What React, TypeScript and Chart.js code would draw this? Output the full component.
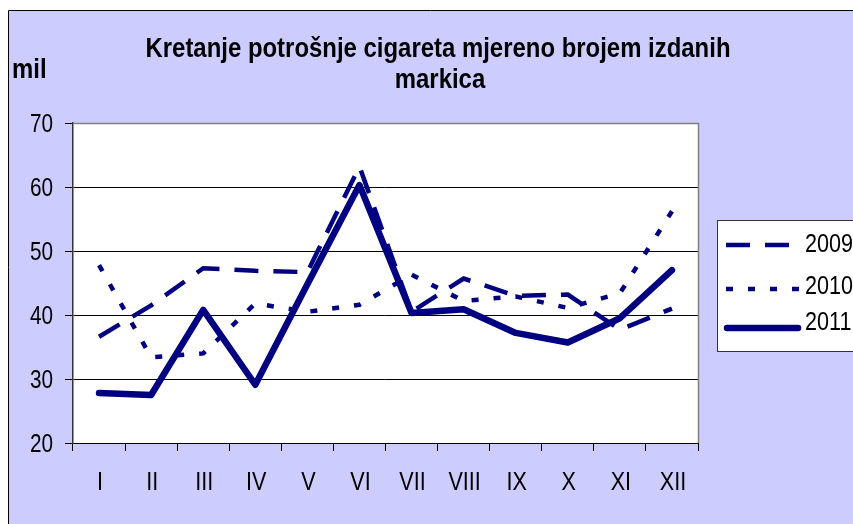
import { useEffect, useRef } from "react";
import { Chart, registerables } from "chart.js";

Chart.register(...registerables);

// ---- data ----
const categories = ["I", "II", "III", "IV", "V", "VI", "VII", "VIII", "IX", "X", "XI", "XII"];
const seriesNames = ["2009", "2010", "2011"];
const values2009 = [36.6, 41.5, 47.3, 46.9, 46.7, 63.2, 40.5, 45.7, 43.0, 43.2, 37.7, 41.0];
const values2010 = [47.8, 33.4, 34.0, 41.8, 40.5, 41.6, 46.3, 42.2, 42.9, 41.1, 43.4, 56.2];
const values2011 = [27.8, 27.5, 40.8, 29.1, 44.8, 60.3, 40.3, 40.9, 37.2, 35.7, 39.5, 47.0];
const yMin = 20;
const yMax = 70;
const yStep = 10;
const titleLines = ["Kretanje potrošnje cigareta mjereno brojem izdanih", "markica"];
const unitLabel = "mil";

// ---- styles ----
const NAVY = "#000080";
const LAVENDER = "#CCCCFF";
const FAMILY = '"Liberation Sans", Arial, sans-serif';
const dashes = [[24, 15], [7, 15], []];
const widths = [4.5, 4.5, 6.5];
const NARROW = 0.83;

function drawScaledText(
  ctx: CanvasRenderingContext2D,
  text: string,
  x: number,
  y: number,
  font: string,
  sx: number,
  align: "left" | "center" | "right"
) {
  ctx.save();
  ctx.font = font;
  ctx.textBaseline = "alphabetic";
  ctx.textAlign = "left";
  const w = ctx.measureText(text).width * sx;
  const left = align === "center" ? x - w / 2 : align === "right" ? x - w : x;
  ctx.translate(left, y);
  ctx.scale(sx, 1);
  ctx.fillStyle = "#000";
  ctx.fillText(text, 0, 0);
  ctx.restore();
}

const decorPlugin = {
  id: "decor",
  beforeDraw(chart: any) {
    const { ctx, width, height, chartArea } = chart;
    ctx.save();
    ctx.fillStyle = "#ffffff";
    ctx.fillRect(0, 0, width, height);
    ctx.fillStyle = LAVENDER;
    ctx.fillRect(9, 11, width - 9, height - 11);
    ctx.strokeStyle = "#000";
    ctx.lineWidth = 1;
    ctx.beginPath();
    ctx.moveTo(8.5, height);
    ctx.lineTo(8.5, 10.5);
    ctx.lineTo(width, 10.5);
    ctx.stroke();
    ctx.fillStyle = "#ffffff";
    ctx.fillRect(chartArea.left, chartArea.top, chartArea.right - chartArea.left, chartArea.bottom - chartArea.top);
    ctx.restore();
  },
  afterDraw(chart: any) {
    const { ctx, chartArea, width } = chart;
    ctx.save();
    // plot border top/right
    ctx.strokeStyle = "#808080";
    ctx.lineWidth = 1.5;
    ctx.beginPath();
    ctx.moveTo(chartArea.left, chartArea.top + 0.5);
    ctx.lineTo(chartArea.right + 0.5, chartArea.top + 0.5);
    ctx.lineTo(chartArea.right + 0.5, chartArea.bottom);
    ctx.stroke();
    ctx.restore();

    // tick labels (narrowed text, positioned by the library's scales)
    const xs = chart.scales.x;
    const ys = chart.scales.y;
    ys.ticks.forEach((t: any) => {
      const py = ys.getPixelForValue(t.value);
      drawScaledText(ctx, String(t.value), 53, py + 8.8, `25px ${FAMILY}`, NARROW, "right");
    });
    categories.forEach((c, i) => {
      const px = xs.getPixelForValue(i);
      drawScaledText(ctx, c, px + 1, 490, `26px ${FAMILY}`, NARROW, "center");
    });

    // title
    const titleFont = `bold 27px ${FAMILY}`;
    ctx.save();
    ctx.font = titleFont;
    const natural = ctx.measureText(titleLines[0]).width;
    ctx.restore();
    const sx = 585 / natural;
    drawScaledText(ctx, titleLines[0], 438, 57, titleFont, sx, "center");
    drawScaledText(ctx, titleLines[1], 440, 88, titleFont, sx, "center");
    drawScaledText(ctx, unitLabel, 12, 78, titleFont, sx, "left");

    // legend
    const lx = 717.5;
    const ly = 220.5;
    ctx.save();
    ctx.fillStyle = "#ffffff";
    ctx.fillRect(lx, ly, width - lx + 5, 131);
    ctx.strokeStyle = "#333";
    ctx.lineWidth = 1;
    ctx.strokeRect(lx, ly, width - lx + 5, 131);
    const lineYs = [245, 289, 328];
    const textYs = [252, 294, 330];
    seriesNames.forEach((name, i) => {
      ctx.save();
      ctx.strokeStyle = NAVY;
      ctx.lineWidth = widths[i];
      ctx.setLineDash(dashes[i]);
      ctx.lineCap = i === 2 ? "round" : "butt";
      ctx.beginPath();
      ctx.moveTo(i === 2 ? 727 : 726, lineYs[i]);
      ctx.lineTo(i === 2 ? 798 : 800, lineYs[i]);
      ctx.stroke();
      ctx.restore();
      drawScaledText(ctx, name, 805, textYs[i], `26px ${FAMILY}`, NARROW, "left");
    });
    ctx.restore();
  },
};

export default function App() {
  const canvasRef = useRef<HTMLCanvasElement | null>(null);

  useEffect(() => {
    const canvas = canvasRef.current;
    if (!canvas) return;
    const allValues = [values2009, values2010, values2011];
    const chart = new Chart(canvas, {
      type: "line",
      data: {
        labels: categories,
        datasets: seriesNames.map((name, i) => ({
          label: name,
          data: allValues[i],
          borderColor: NAVY,
          backgroundColor: NAVY,
          borderWidth: widths[i],
          borderDash: dashes[i],
          borderCapStyle: i === 2 ? "round" : "butt",
          borderJoinStyle: i === 2 ? "round" : "miter",
          pointRadius: 0,
          pointHoverRadius: 0,
          tension: 0,
          fill: false,
        })),
      },
      options: {
        animation: false,
        responsive: false,
        maintainAspectRatio: false,
        events: [],
        layout: { padding: { top: 123, right: 155, left: 0, bottom: 0 } },
        plugins: {
          legend: { display: false },
          title: { display: false },
          tooltip: { enabled: false },
        },
        scales: {
          x: {
            type: "category",
            offset: true,
            grid: {
              offset: true,
              drawOnChartArea: false,
              drawTicks: true,
              tickLength: 8,
              color: "#000",
              tickColor: "#000",
            },
            border: { color: "#000", width: 1 },
            ticks: {
              font: { family: FAMILY, size: 25 },
              color: "rgba(0,0,0,0)",
              padding: 10,
              maxRotation: 0,
              autoSkip: false,
            },
            afterFit: (s: any) => {
              s.height = 81;
            },
          },
          y: {
            min: yMin,
            max: yMax,
            ticks: {
              stepSize: yStep,
              font: { family: FAMILY, size: 25 },
              color: "rgba(0,0,0,0)",
              padding: 12,
            },
            grid: {
              color: (c: any) => (c.tick && c.tick.value === yMax ? "#808080" : "#000"),
              lineWidth: 1,
              tickLength: 8,
              drawTicks: true,
              tickColor: "#000",
            },
            border: { color: "#333", width: 1.5 },
            afterFit: (s: any) => {
              s.width = 73;
            },
          },
        },
      },
      plugins: [decorPlugin],
    });
    return () => chart.destroy();
  }, []);

  return (
    <canvas
      ref={canvasRef}
      width={853}
      height={524}
      style={{ position: "absolute", left: 0, top: 0, width: 853, height: 524, display: "block" }}
    />
  );
}
